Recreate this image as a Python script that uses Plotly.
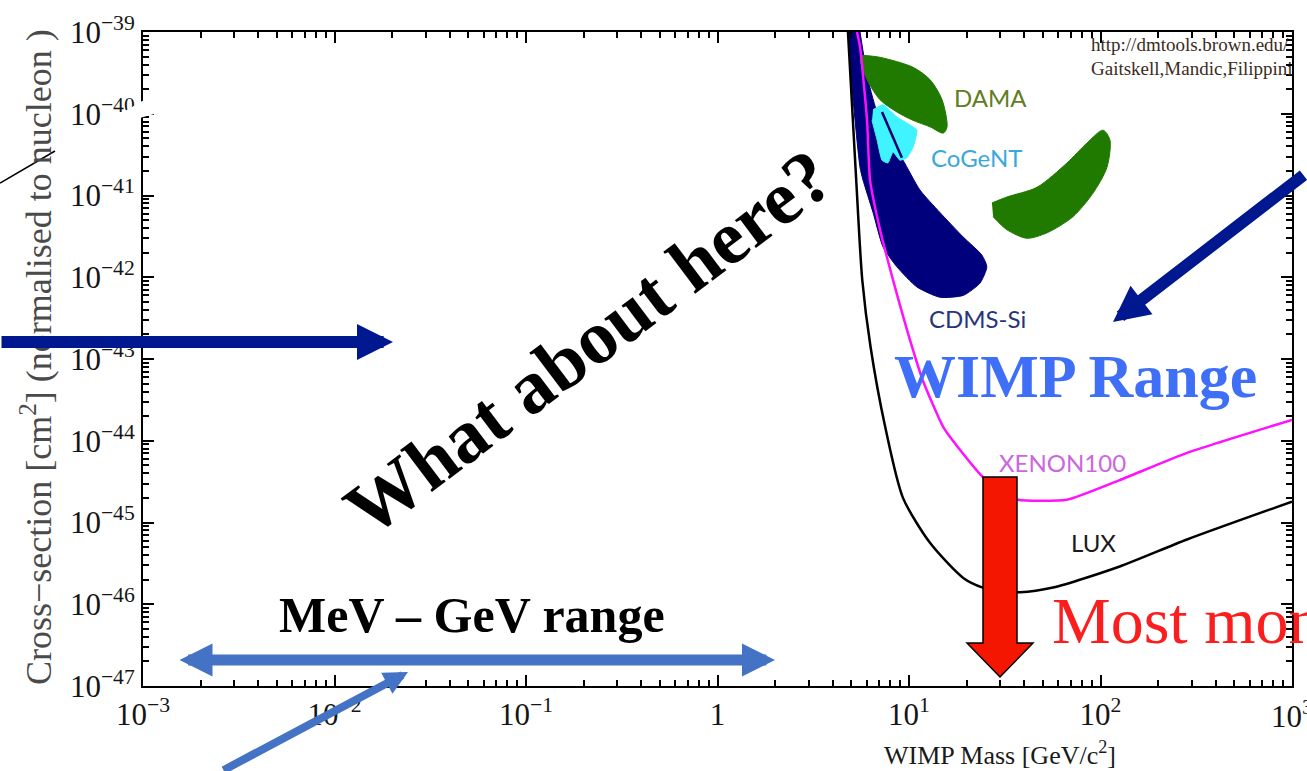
import math
import plotly.graph_objects as go

# ---------------------------------------------------------------- data
# WIMP mass [GeV/c^2] and spin-independent cross-section [cm^2]

lux_mass = [4.8, 5.3, 5.7, 6.3, 7.5, 9.3, 12.9, 19.2, 24.3, 30, 38, 56.5, 126, 283, 1000]
lux_sigma = [1.0e-39, 1.55e-41, 9.3e-43, 1.4e-43, 1.5e-44, 2.0e-45, 5.6e-46, 2.1e-46,
             1.6e-46, 1.45e-46, 1.4e-46, 1.6e-46, 2.9e-46, 6.2e-46, 1.8e-45]

xenon_mass = [5.35, 5.55, 6.04, 6.26, 7.06, 8.25, 9.77, 11.8, 15.1, 18.5, 24.3, 29.9,
              37.1, 66.8, 126, 283, 1000]
xenon_sigma = [1.0e-39, 6.6e-40, 8.3e-41, 1.55e-41, 3.8e-42, 9.3e-43, 2.25e-43, 5.5e-44,
               1.47e-44, 7.7e-45, 3.6e-45, 2.5e-45, 1.9e-45, 1.9e-45, 3.3e-45, 7.1e-45, 1.8e-44]

cdms_mass = [4.80, 5.11, 5.55, 5.75, 6.49, 7.32, 8.65, 11.0, 14.5, 19.2, 23.5, 25.5,
             24.0, 19.2, 14.5, 11.4, 9.31, 7.96, 6.89, 6.11, 5.55]
cdms_sigma = [1.0e-39, 1.48e-40, 2.2e-41, 1.55e-41, 6.2e-42, 2.35e-42, 1.34e-42, 7.6e-43,
              5.7e-43, 6.0e-43, 8.5e-43, 1.34e-42, 1.87e-42, 3.1e-42, 6.2e-42, 1.17e-41,
              2.7e-41, 4.8e-41, 9.6e-41, 2.6e-40, 1.0e-39]

dama_low_mass = [5.69, 7.06, 10.5, 12.9, 14.9, 15.8, 15.1, 12.9, 10.5, 8.65, 7.06, 6.04, 5.55]
dama_low_sigma = [5.2e-40, 4.9e-40, 3.7e-40, 2.6e-40, 1.47e-40, 6.9e-41, 5.8e-41, 6.9e-41,
                  8.3e-41, 1.05e-40, 1.48e-40, 2.6e-40, 4.5e-40]

dama_high_mass = [27.1, 32.5, 46.6, 66.8, 85.1, 103, 112, 108, 91.4, 71.8, 52.6, 41.3, 32.5, 27.5]
dama_high_sigma = [8.1e-42, 9.6e-42, 1.26e-41, 2.5e-41, 4.4e-41, 6.3e-41, 4.8e-41, 2.2e-41,
                   1.07e-41, 5.5e-42, 3.5e-42, 3.0e-42, 3.8e-42, 5.5e-42]

cogent_mass = [6.49, 7.32, 8.65, 11.0, 10.5, 9.77, 8.97, 8.25, 7.76, 7.23, 6.81, 6.41]
cogent_sigma = [1.12e-40, 1.29e-40, 9.1e-41, 6.3e-41, 3.9e-41, 2.9e-41, 2.7e-41, 3.4e-41,
                2.5e-41, 2.7e-41, 4.8e-41, 8.3e-41]
cogent_core_mass = [7.23, 9.18]
cogent_core_sigma = [1.05e-40, 2.9e-41]

# axis ticks (the 10^3 label sits on the page edge and is drawn separately)
x_tick_vals = [1e-3, 1e-2, 1e-1, 1, 1e1, 1e2, 1e3]
x_tick_text = ["10<sup>−3</sup>", "10<sup>−2</sup>", "10<sup>−1</sup>", "1",
               "10<sup>1</sup>", "10<sup>2</sup>", ""]
x_edge_label = "10<sup>3</sup>"
y_tick_vals = [10.0 ** e for e in range(-47, -38)]
y_tick_text = [f"10<sup>−{-e}</sup>" for e in range(-47, -38)]

# ---------------------------------------------------------------- layout helpers
FIG_W, FIG_H = 1307, 771
M_L, M_R, M_T, M_B = 143, 15, 32, 85
SERIF = "Liberation Serif"
SANS = "Lato"
TICK_FONT = dict(family=SERIF, size=31, color="#151515")


def paper_xy(px, py):
    """Figure pixel position -> paper coordinates."""
    return ((px - M_L) / (FIG_W - M_L - M_R),
            (FIG_H - M_B - py) / (FIG_H - M_T - M_B))


def path_from(points):
    pts = [paper_xy(x, y) for x, y in points]
    return "M " + " L ".join(f"{x:.5f},{y:.5f}" for x, y in pts) + " Z"


def minor_ticks(lo, hi):
    return [m * 10.0 ** e for e in range(lo, hi) for m in range(2, 10)]


def arrow(tip, tail, color, width, size, both=False):
    x, y = paper_xy(*tip)
    return dict(x=x, y=y, xref="paper", yref="paper", text="",
                ax=tail[0] - tip[0], ay=tail[1] - tip[1],
                axref="pixel", ayref="pixel", showarrow=True,
                arrowhead=2, arrowsize=size, arrowwidth=width, arrowcolor=color,
                arrowside="end+start" if both else "end",
                startarrowhead=2, startarrowsize=size)


def text_at(px, py, text, size, color, family=SERIF, angle=0, xanchor="center"):
    x, y = paper_xy(px, py)
    return dict(x=x, y=y, xref="paper", yref="paper", text=text, showarrow=False,
                textangle=angle, xanchor=xanchor, yanchor="middle",
                font=dict(family=family, size=size, color=color))


def label_at(mass, sigma, text, color):
    return dict(x=math.log10(mass), y=math.log10(sigma), xref="x", yref="y",
                text=text, showarrow=False, xanchor="center", yanchor="middle",
                font=dict(family=SANS, size=24, color=color))


# ---------------------------------------------------------------- figure
fig = go.Figure()

fig.add_trace(go.Scatter(x=cdms_mass, y=cdms_sigma, fill="toself", fillcolor="#00007d",
                         mode="lines", line=dict(color="#00007d", width=1, shape="spline",
                                                 smoothing=0.6),
                         name="CDMS-Si"))
fig.add_trace(go.Scatter(x=dama_low_mass, y=dama_low_sigma, fill="toself", fillcolor="#217a00",
                         mode="lines", line=dict(color="#217a00", width=1, shape="spline",
                                                 smoothing=0.8),
                         name="DAMA"))
fig.add_trace(go.Scatter(x=dama_high_mass, y=dama_high_sigma, fill="toself", fillcolor="#217a00",
                         mode="lines", line=dict(color="#217a00", width=1, shape="spline",
                                                 smoothing=0.8),
                         name="DAMA"))
fig.add_trace(go.Scatter(x=cogent_mass, y=cogent_sigma, fill="toself", fillcolor="#3ff4ff",
                         mode="lines", line=dict(color="#3ff4ff", width=1, shape="spline",
                                                 smoothing=0.4),
                         name="CoGeNT"))
fig.add_trace(go.Scatter(x=cogent_core_mass, y=cogent_core_sigma, mode="lines",
                         line=dict(color="#000070", width=2.5), name="CoGeNT core"))
fig.add_trace(go.Scatter(x=xenon_mass, y=xenon_sigma, mode="lines",
                         line=dict(color="#ff10ff", width=2.5, shape="spline", smoothing=0.5),
                         name="XENON100"))
fig.add_trace(go.Scatter(x=lux_mass, y=lux_sigma, mode="lines",
                         line=dict(color="black", width=2.5, shape="spline", smoothing=0.7),
                         name="LUX"))

axis_common = dict(
    type="log", showline=True, linecolor="black", linewidth=2, mirror="allticks",
    ticks="inside", ticklen=11, tickwidth=2, tickcolor="black",
    showgrid=False, zeroline=False, automargin=False,
    tickfont=TICK_FONT,
)

fig.update_xaxes(range=[-3, 3], tickmode="array", tickvals=x_tick_vals, ticktext=x_tick_text,
                 minor=dict(tickmode="array", tickvals=minor_ticks(-3, 3), ticks="inside",
                            ticklen=6, tickwidth=1.5, tickcolor="black", showgrid=False),
                 **axis_common)
fig.update_yaxes(range=[-47, -39], tickmode="array", tickvals=y_tick_vals, ticktext=y_tick_text,
                 minor=dict(tickmode="array", tickvals=minor_ticks(-47, -39), ticks="inside",
                            ticklen=6, tickwidth=1.5, tickcolor="black", showgrid=False),
                 **axis_common)

# red "down" arrow at ~30 GeV
red_arrow = [(983, 477), (1017, 477), (1017, 643), (1033, 643), (1000, 677), (967, 643), (983, 643)]
# white cut across the y axis near 1e-40
axis_cut = [(0, 183), (0, 156), (158, 113), (158, 92)]

shapes = [
    dict(type="path", xref="paper", yref="paper", path=path_from(axis_cut),
         fillcolor="white", line=dict(width=0), layer="above"),
    dict(type="line", xref="paper", yref="paper",
         x0=paper_xy(0, 183)[0], y0=paper_xy(0, 183)[1],
         x1=paper_xy(55, 151)[0], y1=paper_xy(55, 151)[1],
         line=dict(color="black", width=1.5), layer="above"),
    dict(type="path", xref="paper", yref="paper", path=path_from(red_arrow),
         fillcolor="#f51600", line=dict(color="black", width=1.5), layer="above"),
]

annotations = [
    # axis titles
    text_at(36, 357, "Cross−section [cm<sup>2</sup>] (normalised to nucleon )", 36, "#4a4a4a",
            angle=-90),
    text_at(1000, 753, "WIMP Mass [GeV/c<sup>2</sup>]", 26, "#1a1a1a"),
    # last x tick label, running off the right edge of the page
    dict(x=math.log10(x_tick_vals[-1]), y=paper_xy(0, 714)[1], xref="x", yref="paper",
         text=x_edge_label, showarrow=False, xanchor="center", yanchor="middle",
         font=TICK_FONT),
    # credits
    text_at(1089, 45, "http://dmtools.brown.edu/", 19, "#3a2c1c", xanchor="left"),
    text_at(1089, 69, "Gaitskell,Mandic,Filippini", 19, "#3a2c1c", xanchor="left"),
    # experiment labels
    label_at(26.5, 10 ** -39.80, "DAMA", "#5f7d23"),
    label_at(22.6, 10 ** -40.53, "CoGeNT", "#3aa8dc"),
    label_at(22.9, 10 ** -42.50, "CDMS-Si", "#28357a"),
    label_at(63.7, 10 ** -44.27, "XENON100", "#cc66e0"),
    label_at(91.4, 10 ** -45.25, "LUX", "#1a1a1a"),
    # slide texts
    text_at(588, 342, "<b>What about here?</b>", 76, "black", angle=-37),
    text_at(472, 615, "<b>MeV – GeV range</b>", 50, "black"),
    text_at(1075, 376, "<b>WIMP Range</b>", 62, "#3f6ff7"),
    text_at(1050, 620, "Most money", 66, "#fa1e1e", xanchor="left"),
    # arrows
    arrow((775, 660), (178, 660), "#4472c4", 11, 0.6, both=True),
    arrow((408, 672), (222, 776), "#4472c4", 8, 0.6),
    arrow((393, 342), (0, 342), "#00188f", 12, 0.6),
    arrow((1113, 322), (1305, 174), "#00188f", 12, 0.6),
]

fig.update_layout(
    width=FIG_W, height=FIG_H,
    margin=dict(l=M_L, r=M_R, t=M_T, b=M_B, pad=0, autoexpand=False),
    paper_bgcolor="white", plot_bgcolor="white",
    showlegend=False,
    shapes=shapes,
    annotations=annotations,
)

fig.write_html("out.html")
